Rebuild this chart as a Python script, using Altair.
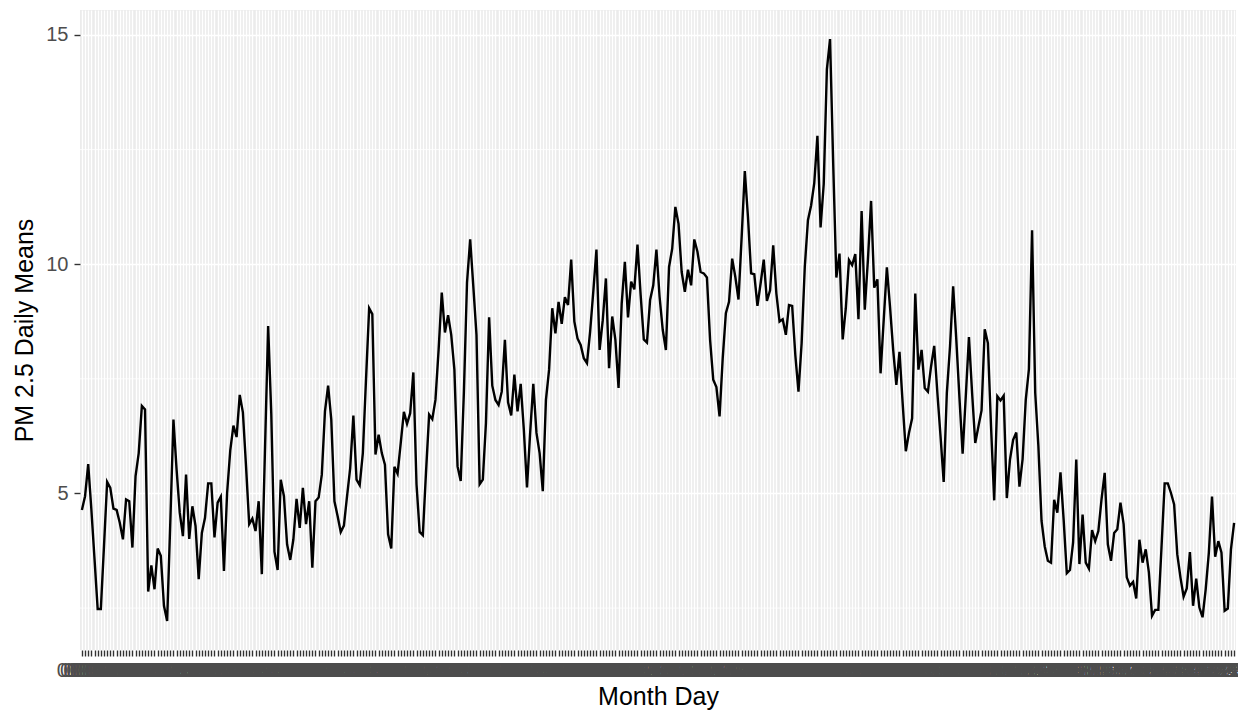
import altair as alt
import pandas as pd

# Month-day categories (leap year, 366 days)
days = list(pd.date_range("2020-01-01", "2020-12-31", freq="D").strftime("%m-%d"))

pm25 = [
    4.64, 4.94, 5.64, 4.65, 3.57, 2.48, 2.48, 3.85, 5.25, 5.12,
    4.67, 4.64, 4.36, 4.00, 4.87, 4.83, 3.82, 5.38, 5.88, 6.91,
    6.83, 2.86, 3.43, 2.91, 3.80, 3.64, 2.55, 2.22, 4.36, 6.61,
    5.52, 4.58, 4.07, 5.41, 4.01, 4.72, 4.29, 3.13, 4.14, 4.47,
    5.22, 5.22, 4.04, 4.80, 4.93, 3.31, 5.01, 5.94, 6.48, 6.23,
    7.15, 6.77, 5.59, 4.33, 4.45, 4.18, 4.83, 3.24, 5.96, 8.65,
    6.72, 3.73, 3.33, 5.30, 4.94, 3.89, 3.55, 4.00, 4.88, 4.25,
    5.12, 4.33, 4.83, 3.38, 4.83, 4.91, 5.41, 6.79, 7.35, 6.61,
    4.83, 4.51, 4.16, 4.30, 4.94, 5.56, 6.70, 5.30, 5.18, 5.88,
    7.48, 9.04, 8.91, 5.85, 6.28, 5.88, 5.63, 4.11, 3.80, 5.58,
    5.43, 6.10, 6.78, 6.52, 6.75, 7.64, 5.20, 4.16, 4.09, 5.45,
    6.72, 6.62, 7.04, 8.13, 9.38, 8.51, 8.89, 8.46, 7.70, 5.59,
    5.27, 7.19, 9.60, 10.54, 9.51, 8.46, 5.20, 5.30, 6.54, 8.84,
    7.35, 7.04, 6.93, 7.22, 8.35, 6.99, 6.70, 7.59, 6.79, 7.39,
    6.39, 5.13, 6.32, 7.39, 6.32, 5.88, 5.05, 7.04, 7.70, 9.04,
    8.49, 9.18, 8.70, 9.28, 9.11, 10.10, 8.75, 8.38, 8.24, 7.95,
    7.84, 8.53, 9.40, 10.32, 8.13, 8.78, 9.69, 7.73, 8.86, 8.35,
    7.30, 9.14, 10.05, 8.84, 9.62, 9.45, 10.43, 9.33, 8.36, 8.29,
    9.22, 9.54, 10.32, 9.29, 8.57, 8.13, 9.94, 10.34, 11.25, 10.88,
    9.83, 9.40, 9.88, 9.54, 10.54, 10.27, 9.83, 9.80, 9.71, 8.35,
    7.48, 7.32, 6.68, 7.95, 8.93, 9.18, 10.12, 9.72, 9.23, 10.59,
    12.03, 11.03, 9.80, 9.78, 9.09, 9.58, 10.10, 9.20, 9.43, 10.41,
    9.36, 8.75, 8.80, 8.46, 9.11, 9.09, 8.02, 7.22, 8.28, 9.94,
    10.96, 11.28, 11.77, 12.80, 10.80, 11.75, 14.25, 14.91, 12.19, 9.71,
    10.23, 8.36, 9.04, 10.09, 9.98, 10.22, 8.80, 11.16, 9.01, 10.10,
    11.38, 9.49, 9.67, 7.62, 8.78, 9.93, 9.07, 8.13, 7.37, 8.09,
    6.97, 5.92, 6.32, 6.64, 9.36, 7.70, 8.13, 7.30, 7.22, 7.77,
    8.22, 7.19, 6.25, 5.25, 7.19, 8.20, 9.52, 8.35, 7.08, 5.87,
    7.12, 8.41, 7.19, 6.10, 6.46, 6.81, 8.58, 8.28, 6.46, 4.85,
    7.12, 7.03, 7.13, 4.90, 5.74, 6.17, 6.33, 5.15, 5.75, 7.04,
    7.71, 10.74, 7.19, 6.03, 4.40, 3.85, 3.53, 3.49, 4.86, 4.58,
    5.46, 4.43, 3.26, 3.33, 3.93, 5.74, 3.46, 4.54, 3.49, 3.36,
    4.20, 3.96, 4.18, 4.87, 5.45, 3.89, 3.53, 4.14, 4.22, 4.80,
    4.33, 3.17, 2.99, 3.07, 2.71, 3.99, 3.49, 3.78, 3.28, 2.33,
    2.46, 2.46, 3.82, 5.22, 5.22, 5.01, 4.76, 3.67, 3.17, 2.75,
    2.93, 3.72, 2.55, 3.14, 2.51, 2.30, 2.91, 3.71, 4.93, 3.62,
    3.96, 3.71, 2.44, 2.49, 3.78, 4.36,
]

major_breaks = [5, 10, 15]
minor_breaks = [2.5, 7.5, 12.5]

df = pd.DataFrame({"day": days, "pm": pm25})
minor_df = pd.DataFrame({"v": minor_breaks})

lo, hi = min(pm25), max(pm25)
pad = 0.05 * (hi - lo)
yscale = alt.Scale(domain=[lo - pad, hi + pad], nice=False, zero=False)

FONT = "Liberation Sans"

y_axis = alt.Axis(
    title="PM 2.5 Daily Means",
    values=major_breaks,
    labelFontSize=20,
    labelColor="#4D4D4D",
    labelPadding=6,
    tickSize=6,
    tickColor="#333333",
    tickWidth=1.4,
    domain=False,
    grid=True,
    gridColor="white",
    gridWidth=1.6,
    titleFontSize=25,
    titleFontWeight="normal",
    titleColor="black",
    titlePadding=8,
)

minor_grid = alt.Chart(minor_df).mark_rule(color="white", strokeWidth=0.8).encode(
    y=alt.Y("v:Q", scale=yscale, axis=y_axis, title="PM 2.5 Daily Means")
)

line = alt.Chart(df).mark_line(color="black", strokeWidth=2.4).encode(
    x=alt.X(
        "day:O",
        sort=None,
        scale=alt.Scale(type="point", padding=0.6),
        axis=alt.Axis(
            title="Month Day",
            labelAngle=0,
            labelOverlap=False,
            labelFlush=False,
            labelBound=False,
            labelFontSize=20,
            labelColor="#4D4D4D",
            labelPadding=4,
            tickSize=6,
            tickColor="#333333",
            tickWidth=1.4,
            domain=False,
            grid=True,
            gridColor="white",
            gridWidth=1.4,
            titleFontSize=25,
            titleFontWeight="normal",
            titleColor="black",
            titlePadding=4,
        ),
    ),
    y=alt.Y("pm:Q", scale=yscale, axis=y_axis, title="PM 2.5 Daily Means"),
)

chart = (
    alt.layer(minor_grid, line)
    .properties(
        width=1156,
        height=640,
        autosize=alt.AutoSizeParams(type="none"),
        padding={"left": 72, "top": 2, "right": 2, "bottom": 64},
    )
    .configure(font=FONT)
    .configure_view(fill="#EBEBEB", strokeWidth=0)
)

chart.save("out.html", embed_options={"renderer": "svg", "actions": False})
